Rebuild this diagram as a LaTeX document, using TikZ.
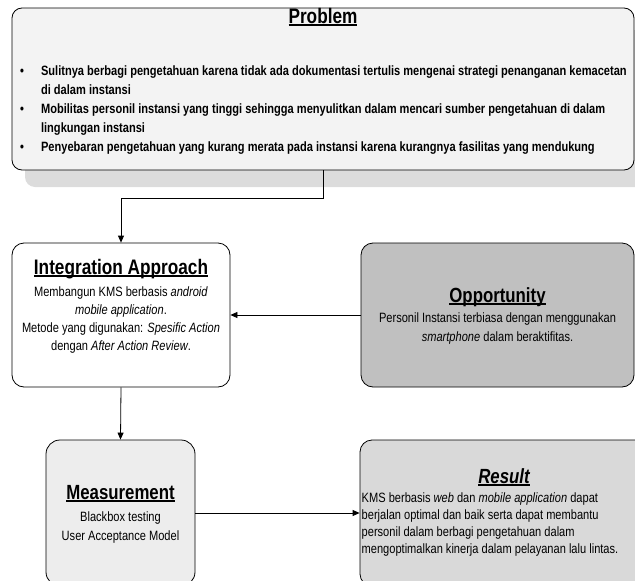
\documentclass[tikz,border=0pt]{standalone}
\usepackage{fontspec}
\setmainfont{Liberation Sans}[FakeStretch=0.82]
\usetikzlibrary{arrows.meta}
\newcommand{\thickul}[1]{\leavevmode\setbox0\hbox{#1}\rlap{\rule[-2.6pt]{\wd0}{1.5pt}}\box0}
\definecolor{probfill}{HTML}{F3F3F3}
\definecolor{shadowgray}{HTML}{DCDCDC}
\definecolor{oppfill}{HTML}{C0C0C0}
\definecolor{measfill}{HTML}{EDEDED}
\definecolor{resfill}{HTML}{D9D9D9}
\tikzset{
  box/.style={draw=black, line width=0.8pt, rounded corners=12pt, inner sep=0pt},
  head/.style={font=\fontsize{20.5}{24}\selectfont\bfseries, inner sep=0pt, anchor=base},
  body/.style={font=\fontsize{13.5}{18}\selectfont, inner sep=0pt, anchor=base},
  link/.style={line width=0.8pt, -{Triangle[length=7pt,width=6pt]}},
}
\begin{document}
\begin{tikzpicture}[x=1pt,y=-1pt]
\useasboundingbox (0,0) rectangle (635,581);
% problem box with its shadow
\fill[shadowgray, rounded corners=10pt] (25,30) rectangle (650,187);
\node[box, fill=probfill, rounded corners=10pt, minimum width=622pt, minimum height=162pt] (prob) at (323,89) {};
\node[head, font=\fontsize{21}{24}\selectfont\bfseries] (probT) at (323,23) {\thickul{Problem}};
\node[anchor=base west, inner sep=0pt, font=\fontsize{13.5}{19}\selectfont\bfseries] (probL) at (20,75)
  {\begin{tabular}[t]{@{}l@{\hspace{17pt}}l@{}}
   \textbullet & Sulitnya berbagi pengetahuan karena tidak ada dokumentasi tertulis mengenai strategi penanganan kemacetan\\
               & di dalam instansi\\
   \textbullet & Mobilitas personil instansi yang tinggi sehingga menyulitkan dalam mencari sumber pengetahuan di dalam\\
               & lingkungan instansi\\
   \textbullet & Penyebaran pengetahuan yang kurang merata pada instansi karena kurangnya fasilitas yang mendukung
   \end{tabular}};
% integration approach
\node[box, fill=white, minimum width=218pt, minimum height=144pt] (integ) at (121,315) {};
\node[head, font=\fontsize{21}{24}\selectfont\bfseries] (integT) at (121,274) {\thickul{Integration Approach}};
\node[body] (integB) at (121,296)
  {\begin{tabular}[t]{@{}c@{}}
   Membangun KMS berbasis \textit{android}\\
   \textit{mobile application}.\\
   Metode yang digunakan: \textit{Spesific Action}\\
   dengan \textit{After Action Review}.
   \end{tabular}};
% opportunity
\node[box, fill=oppfill, minimum width=273pt, minimum height=144pt] (opp) at (497.5,315) {};
\node[head] (oppT) at (497.5,302) {\thickul{Opportunity}};
\node[body, font=\fontsize{13.5}{19}\selectfont] (oppB) at (497.5,322)
  {\begin{tabular}[t]{@{}c@{}}
   Personil Instansi terbiasa dengan menggunakan\\
   \textit{smartphone} dalam beraktifitas.
   \end{tabular}};
% measurement
\node[box, fill=measfill, rounded corners=14pt, minimum width=149pt, minimum height=146pt] (meas) at (120.5,513) {};
\node[head] (measT) at (120.5,499) {\thickul{Measurement}};
\node[body, font=\fontsize{13.5}{19}\selectfont] (measB) at (120.5,521)
  {\begin{tabular}[t]{@{}c@{}}
   Blackbox testing\\
   User Acceptance Model
   \end{tabular}};
% result
\node[box, fill=resfill, minimum width=290pt, minimum height=146pt] (res) at (505,513) {};
\node[head] (resT) at (504,483) {\thickul{\itshape Result}};
\node[body, anchor=base west, font=\fontsize{13.5}{17}\selectfont] (resB) at (361.5,502)
  {\begin{tabular}[t]{@{}l@{}}
   KMS berbasis \textit{web} dan \textit{mobile application} dapat\\
   berjalan optimal dan baik serta dapat membantu\\
   personil dalam berbagi pengetahuan dalam\\
   mengoptimalkan kinerja dalam pelayanan lalu lintas.
   \end{tabular}};
% connectors
\draw[link] (prob.south) -- ++(0,28) -| (integ.north);
\draw[link] (opp.west) -- (integ.east);
\draw[link] (integ.south) -- (meas.north);
\draw[link] (meas.east) -- (res.west);
\end{tikzpicture}
\end{document}
